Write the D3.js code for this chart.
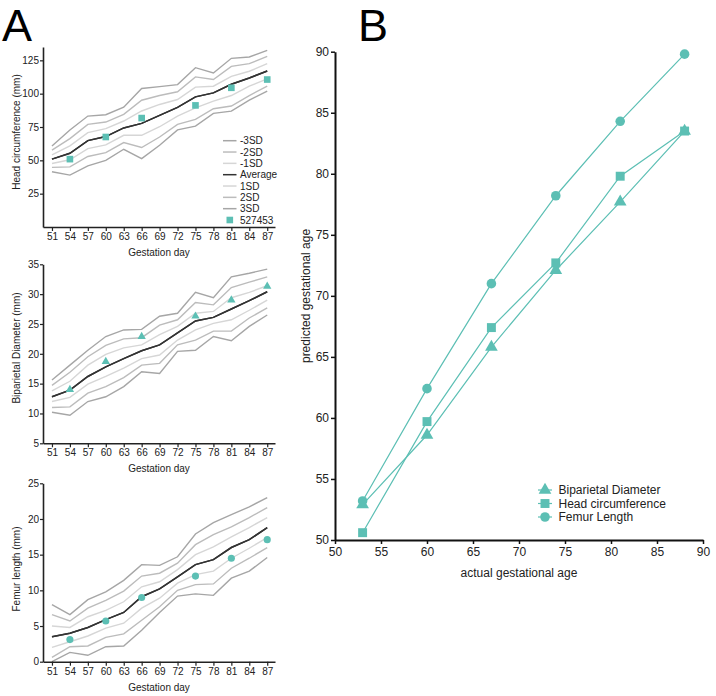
<!DOCTYPE html>
<html>
<head>
<meta charset="utf-8">
<script src="https://cdn.jsdelivr.net/npm/d3@7"></script>
<style>
  html, body { margin: 0; padding: 0; background: #fff; }
  svg { display: block; font-family: "Liberation Sans", Arial, sans-serif; }
</style>
</head>
<body>
<svg id="chart" width="716" height="696"></svg>
<script>
// ---------- DATA ----------
const days = [51, 54, 57, 60, 63, 66, 69, 72, 75, 78, 81, 84, 87];
const sdNames = ["-3SD", "-2SD", "-1SD", "Average", "1SD", "2SD", "3SD"];
const patientDays = [54, 60, 66, 75, 81, 87];

// Head circumference (mm)
const hcM3 = [41.4, 38.9, 45.9, 49.9, 58.3, 51.3, 61.3, 72.8, 75.7, 85.2, 86.9, 95.1, 101.9];
const hcM2 = [44.7, 45.1, 52.9, 55.8, 63.3, 59.6, 67.5, 77.0, 80.7, 88.7, 90.7, 98.6, 105.6];
const hcM1 = [47.6, 50.4, 58.8, 61.6, 68.8, 68.8, 75.2, 83.2, 89.4, 94.4, 98.6, 105.6, 111.1];
const hcAvg = [50.9, 55.3, 64.8, 67.8, 74.3, 77.7, 83.7, 89.7, 97.6, 100.6, 107.1, 111.8, 117.0];
const hcP1 = [54.1, 60.8, 70.8, 73.8, 79.5, 87.0, 91.9, 95.6, 104.9, 105.6, 113.0, 116.8, 122.5];
const hcP2 = [57.6, 66.3, 77.0, 78.7, 84.5, 95.1, 98.6, 101.4, 112.6, 110.6, 120.5, 122.5, 128.0];
const hcP3 = [60.8, 72.8, 83.2, 84.2, 89.9, 103.9, 105.3, 106.8, 119.5, 115.5, 126.5, 127.5, 132.5];
const hcPatient = [50.9, 67.5, 81.7, 91.2, 104.4, 110.6];

// Biparietal diameter (mm)
const bpdM3 = [10.2, 9.7, 12.0, 12.8, 14.5, 17.0, 16.7, 20.4, 20.6, 22.9, 22.2, 24.6, 26.5];
const bpdM2 = [11.0, 11.1, 13.4, 14.5, 16.0, 18.1, 18.4, 21.5, 22.3, 23.8, 23.8, 26.0, 27.7];
const bpdM1 = [12.0, 12.7, 14.9, 16.2, 17.6, 19.2, 19.8, 22.3, 24.0, 25.1, 25.7, 27.3, 29.0];
const bpdAvg = [12.8, 13.9, 16.2, 17.8, 19.2, 20.5, 21.5, 23.5, 25.5, 26.1, 27.5, 28.9, 30.4];
const bpdP1 = [13.8, 15.4, 18.1, 19.9, 21.0, 21.5, 23.2, 24.6, 26.8, 27.1, 29.4, 30.3, 31.4];
const bpdP2 = [14.7, 16.9, 19.5, 21.4, 22.5, 22.7, 24.8, 25.7, 28.6, 28.2, 31.1, 32.0, 32.9];
const bpdP3 = [15.6, 18.1, 20.6, 22.9, 24.0, 24.1, 26.3, 26.8, 30.3, 29.4, 32.9, 33.5, 34.2];
const bpdPatient = [14.0, 18.7, 22.9, 26.3, 29.0, 31.3];

// Femur length (mm)
const flM3 = [0.0, 1.3, 0.9, 2.1, 2.2, 4.4, 6.9, 9.2, 9.5, 9.3, 11.7, 12.7, 14.6];
const flM2 = [0.6, 2.1, 2.2, 3.4, 3.9, 5.8, 7.7, 10.0, 10.8, 10.9, 13.1, 14.5, 16.0];
const flM1 = [2.0, 2.8, 3.6, 4.7, 5.4, 7.5, 8.9, 11.0, 12.2, 12.7, 14.5, 15.9, 17.4];
const flAvg = [3.5, 4.0, 4.8, 5.9, 6.9, 9.1, 10.2, 11.9, 13.6, 14.3, 16.0, 17.1, 18.8];
const flP1 = [5.0, 4.8, 6.3, 7.2, 8.4, 10.5, 11.2, 12.9, 15.0, 16.1, 17.5, 18.8, 20.2];
const flP2 = [6.6, 5.7, 7.5, 8.6, 9.9, 12.0, 12.4, 13.8, 16.4, 17.8, 18.9, 20.2, 21.6];
const flP3 = [8.0, 6.6, 8.7, 9.8, 11.4, 13.6, 13.5, 14.7, 17.9, 19.5, 20.6, 21.7, 23.0];
const flPatient = [3.1, 5.7, 9.0, 12.0, 14.5, 17.1];

// Panel B
const actualAge = [53, 60, 67, 74, 81, 88];
const predBPD = [52.9, 58.6, 65.8, 72.1, 77.7, 83.5];
const predHC = [50.6, 59.7, 67.4, 72.7, 79.8, 83.5];
const predFL = [53.2, 62.4, 71.0, 78.2, 84.3, 89.8];
const seriesNamesB = ["Biparietal Diameter", "Head circumference", "Femur Length"];

const xTicksA = days;
const hcTicks = [25, 50, 75, 100, 125];
const bpdTicks = [5, 10, 15, 20, 25, 30, 35];
const flTicks = [0, 5, 10, 15, 20, 25];
const bTicks = [50, 55, 60, 65, 70, 75, 80, 85, 90];

// ---------- STYLE ----------
const teal = "#5cbfb4";
const sdColors = ["#a6a6a6", "#bcbcbc", "#d6d6d6", "#333333", "#d6d6d6", "#bcbcbc", "#a6a6a6"];
const svg = d3.select("#chart");

// Panel labels
svg.append("text").attr("x", 2).attr("y", 40.5).attr("font-size", 45).text("A");
svg.append("text").attr("x", 358).attr("y", 40.5).attr("font-size", 45).text("B");

const symTri = d3.symbol().type(d3.symbolTriangle);
const symSq = d3.symbol().type(d3.symbolSquare);
const symCir = d3.symbol().type(d3.symbolCircle);

function drawA(cfg) {
  const x = d3.scaleLinear().domain([49.5, 88.3]).range([43, 275]);
  const y = d3.scaleLinear().domain(cfg.domain).range([cfg.bottom, cfg.top]);
  const g = svg.append("g");
  const line = d3.line().x((d, i) => x(days[i])).y(d => y(d));
  cfg.series.forEach((s, k) => {
    g.append("path").datum(s).attr("d", line)
      .attr("fill", "none").attr("stroke", sdColors[k])
      .attr("stroke-width", k === 3 ? 1.5 : 1.4).attr("stroke-linejoin", "miter");
  });
  // draw black average last on top
  g.append("path").datum(cfg.series[3]).attr("d", line)
    .attr("fill", "none").attr("stroke", sdColors[3]).attr("stroke-width", 1.5);

  g.selectAll(".pt").data(cfg.patient).enter().append("path")
    .attr("d", cfg.symbol.size(cfg.symSize)())
    .attr("transform", (d, i) => `translate(${x(patientDays[i])},${y(d)})`)
    .attr("fill", teal);

  const xAxis = d3.axisBottom(x).tickValues(xTicksA).tickSize(4).tickSizeOuter(0).tickPadding(2);
  const gx = g.append("g").attr("transform", `translate(0,${cfg.bottom})`).call(xAxis);
  const yAxis = d3.axisLeft(y).tickValues(cfg.ticks).tickSize(3).tickSizeOuter(0).tickPadding(1);
  const gy = g.append("g").attr("transform", `translate(43,0)`).call(yAxis);
  [gx, gy].forEach(a => {
    a.select(".domain").attr("stroke", "#222").attr("stroke-width", 1.6);
    a.selectAll(".tick line").attr("stroke", "#222").attr("stroke-width", 1.2);
    a.selectAll("text").attr("font-size", 10).attr("fill", "#222")
      .attr("font-family", "Liberation Sans, Arial, sans-serif");
  });
  g.append("text").attr("x", 159).attr("y", cfg.bottom + 29).attr("text-anchor", "middle")
    .attr("font-size", 10).attr("fill", "#222").text("Gestation day");
  g.append("text").attr("transform", `translate(20,${cfg.titleY}) rotate(-90)`)
    .attr("text-anchor", "middle").attr("font-size", 10).attr("fill", "#222").text(cfg.title);
}

drawA({domain: [0, 135], top: 47, bottom: 227, ticks: hcTicks,
  series: [hcM3, hcM2, hcM1, hcAvg, hcP1, hcP2, hcP3], patient: hcPatient,
  symbol: symSq, symSize: 44, title: "Head circumference (mm)", titleY: 132});
drawA({domain: [5, 35], top: 264.3, bottom: 443.3, ticks: bpdTicks,
  series: [bpdM3, bpdM2, bpdM1, bpdAvg, bpdP1, bpdP2, bpdP3], patient: bpdPatient,
  symbol: symTri, symSize: 30, title: "Biparietal Diameter (mm)", titleY: 348});
drawA({domain: [0, 25], top: 483.3, bottom: 661.7, ticks: flTicks,
  series: [flM3, flM2, flM1, flAvg, flP1, flP2, flP3], patient: flPatient,
  symbol: symCir, symSize: 40, title: "Femur length (mm)", titleY: 569});

// Legend for panel A
const legA = svg.append("g");
sdNames.forEach((n, i) => {
  const yy = 140.7 + i * 11.33;
  legA.append("line").attr("x1", 223).attr("x2", 236.5).attr("y1", yy).attr("y2", yy)
    .attr("stroke", sdColors[i]).attr("stroke-width", 1.5);
  legA.append("text").attr("x", 240).attr("y", yy + 3.5).attr("font-size", 10).attr("fill", "#222").text(n);
});
{
  const yy = 140.7 + 7 * 11.33;
  legA.append("rect").attr("x", 226.5).attr("y", yy - 3.3).attr("width", 6.6).attr("height", 6.6).attr("fill", teal);
  legA.append("text").attr("x", 240).attr("y", yy + 3.5).attr("font-size", 10).attr("fill", "#222").text("527453");
}

// ---------- PANEL B ----------
const xB = d3.scaleLinear().domain([50, 90]).range([335, 703]);
const yB = d3.scaleLinear().domain([50, 90]).range([540, 51.7]);
const gB = svg.append("g");
const seriesB = [predBPD, predHC, predFL];
const symsB = [symTri.size(70), symSq.size(80), symCir.size(72)];
const lineB = d3.line().x((d, i) => xB(actualAge[i])).y(d => yB(d));
seriesB.forEach((s) => {
  gB.append("path").datum(s).attr("d", lineB).attr("fill", "none")
    .attr("stroke", teal).attr("stroke-width", 1.2);
});
seriesB.forEach((s, k) => {
  gB.selectAll(".m" + k).data(s).enter().append("path")
    .attr("d", symsB[k]())
    .attr("transform", (d, i) => `translate(${xB(actualAge[i])},${yB(d)})`)
    .attr("fill", teal);
});
const gxB = gB.append("g").attr("transform", "translate(0,540)")
  .call(d3.axisBottom(xB).tickValues(bTicks).tickSize(4).tickSizeOuter(0).tickPadding(3));
const gyB = gB.append("g").attr("transform", "translate(335,0)")
  .call(d3.axisLeft(yB).tickValues(bTicks).tickSize(4).tickSizeOuter(0).tickPadding(2));
[gxB, gyB].forEach(a => {
  a.select(".domain").attr("stroke", "#111").attr("stroke-width", 2);
  a.selectAll(".tick line").attr("stroke", "#111").attr("stroke-width", 1.5);
  a.selectAll("text").attr("font-size", 12).attr("fill", "#222")
    .attr("font-family", "Liberation Sans, Arial, sans-serif");
});
gB.append("text").attr("x", 519).attr("y", 576.5).attr("text-anchor", "middle")
  .attr("font-size", 12).attr("fill", "#222").text("actual gestational age");
gB.append("text").attr("transform", "translate(310,296) rotate(-90)").attr("text-anchor", "middle")
  .attr("font-size", 12).attr("fill", "#222").text("predicted gestational age");

// Legend B
seriesNamesB.forEach((n, k) => {
  const yy = 490 + k * 13.5;
  gB.append("line").attr("x1", 538).attr("x2", 552).attr("y1", yy).attr("y2", yy)
    .attr("stroke", teal).attr("stroke-width", 1.2);
  gB.append("path").attr("d", symsB[k]()).attr("transform", `translate(545,${yy})`).attr("fill", teal);
  gB.append("text").attr("x", 558.5).attr("y", yy + 4.3).attr("font-size", 12).attr("fill", "#222").text(n);
});
</script>
</body>
</html>
